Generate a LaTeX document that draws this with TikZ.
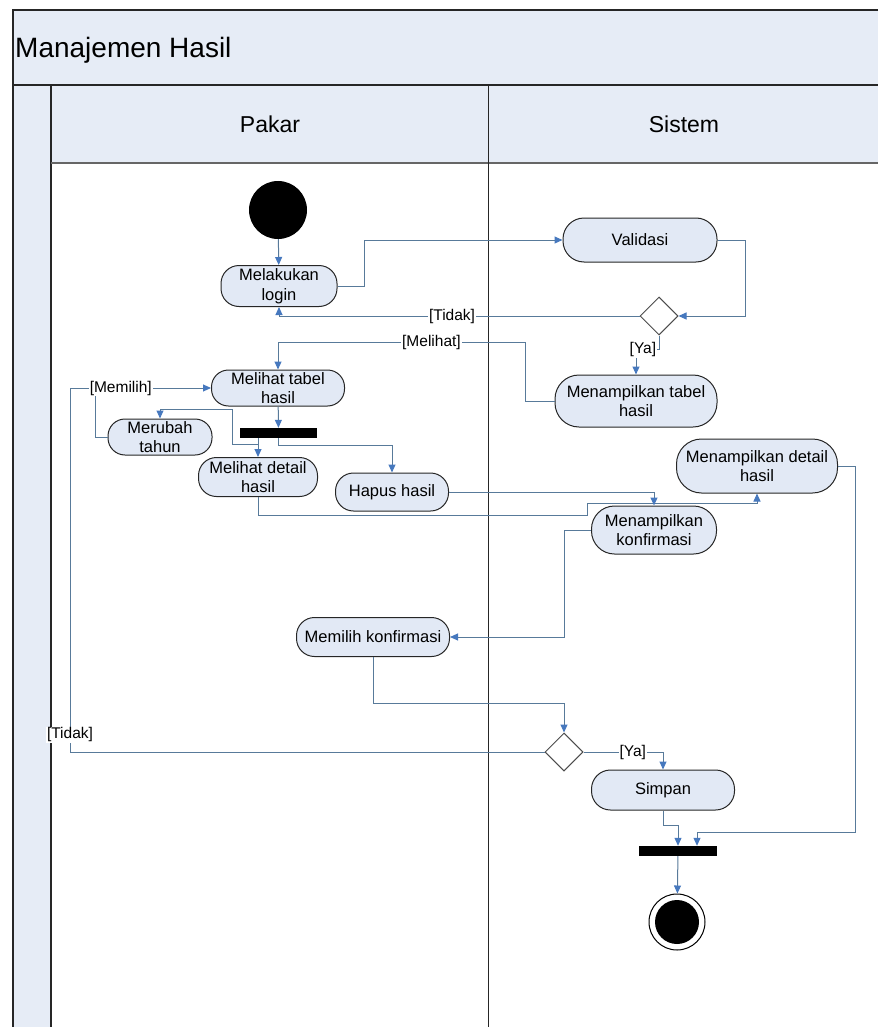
\documentclass[tikz,border=0pt]{standalone}
\usepackage{fontspec}
\setmainfont{Liberation Sans}
\usepackage{tikz}
\usetikzlibrary{arrows.meta,shapes.geometric,calc}
\definecolor{lanefill}{RGB}{230,236,246}
\definecolor{actfill}{RGB}{226,233,245}
\definecolor{flowline}{RGB}{88,122,154}
\definecolor{flowtip}{RGB}{70,120,190}

\begin{document}
\begin{tikzpicture}
[x=1pt,y=-1pt,
lane/.style={draw=black!85,line width=1.2pt},
act/.style={draw=black!85,line width=1pt,fill=actfill,rounded corners=18pt,align=center,inner sep=0pt,font=\fontsize{16.5}{19.5}\selectfont},
dec/.style={diamond,draw=black!70,line width=1pt,fill=white,minimum width=38pt,minimum height=38pt,inner sep=0pt},
bar/.style={fill=black,minimum height=10pt,inner sep=0pt},
guard/.style={fill=white,inner sep=1pt,font=\fontsize{15.5}{18}\selectfont},
flow/.style={draw=flowline,line width=1pt,-{Triangle[length=8pt,width=7pt,color=flowtip]}},
link/.style={draw=flowline,line width=1pt}]
\useasboundingbox (0,0) rectangle (878,1027);
\fill[lanefill] (13,10) rectangle (878,163);
\fill[lanefill] (13,163) rectangle (51,1027);
\draw[lane] (878,10) -- (13,10) -- (13,1027);
\draw[lane,line width=2.5pt] (13,85) -- (878,85);
\draw[lane] (51,85) -- (51,1027);
\draw[lane,draw=black!60,line width=1.6pt] (51,163) -- (878,163);
\draw[lane,line width=1pt] (488,85) -- (488,1027);
\node[anchor=west,inner sep=2pt,font=\fontsize{28}{32}\selectfont] (TT) at (13,50) {Manajemen Hasil};
\node[font=\fontsize{23}{27}\selectfont] (HP) at (270,124) {Pakar};
\node[font=\fontsize{23}{27}\selectfont] (HS) at (684,124) {Sistem};

\node[circle,fill=black,minimum size=58pt,inner sep=0pt] (ST) at (278,210) {};
\node[act,minimum width=116pt,minimum height=41pt] (ML) at (279,286) {Melakukan\\login};
\node[act,minimum width=154pt,minimum height=44pt,rounded corners=21pt] (VA) at (640,240) {Validasi};
\node[dec] (D1) at (659,316) {};
\node[act,minimum width=162pt,minimum height=52pt,rounded corners=24pt] (MT) at (636,401) {Menampilkan tabel\\hasil};
\node[act,minimum width=133pt,minimum height=36pt,rounded corners=17pt] (LT) at (278,388) {Melihat tabel\\hasil};
\node[bar,minimum width=77pt] (F1) at (278.5,433) {};
\node[act,minimum width=104pt,minimum height=36pt,rounded corners=17pt] (RT) at (160,437) {Merubah\\tahun};
\node[act,minimum width=119pt,minimum height=39pt] (LD) at (258,477) {Melihat detail\\hasil};
\node[act,minimum width=113pt,minimum height=38pt] (HH) at (392,492) {Hapus hasil};
\node[act,minimum width=161pt,minimum height=54pt,rounded corners=25pt] (MD) at (757,466) {Menampilkan detail\\hasil};
\node[act,minimum width=125pt,minimum height=48pt,rounded corners=23pt] (MK) at (654,530) {Menampilkan\\konfirmasi};
\node[act,minimum width=153pt,minimum height=39pt] (PK) at (373,637) {Memilih konfirmasi};
\node[dec] (D2) at (564,752) {};
\node[act,minimum width=143pt,minimum height=40pt,rounded corners=19pt] (SI) at (663,790) {Simpan};
\node[bar,minimum width=78pt] (J1) at (678,851) {};
\node[circle,draw=black,line width=1pt,fill=white,minimum size=56pt,inner sep=0pt] (EN) at (677,922) {};
\fill (EN.center) circle (22pt);
\coordinate (MB) at (95,388);

\draw[flow] (ST) -- (ML);
\draw[flow] (ML.east) -- ++(27,0) |- (VA.west);
\draw[flow] (VA.east) -- ++(28,0) |- (D1.east);
\draw[flow] (D1.west) -| node[guard,pos=0.26]{[Tidak]} (ML.south);
\draw[flow] (D1.south) -- ++(0,14) -| node[guard,pos=0.35]{[Ya]} (MT.north);
\draw[flow] (MT.west) -- ++(-29,0) -- ++(0,-59) -| node[guard,pos=0.19]{[Melihat]} (LT.north);
\draw[flow] (LT) -- (F1);
\draw[flow] (F1.south -| LD.north) -- (LD.north);
\draw[flow] (F1.south) -- ++(0,7) -| (HH.north);
\draw[flow] (LD.north) ++(0,-13) -- ++(-26,0) -- ++(0,-35) -| (RT.north);
\draw[link] (MB) |- (RT.west);
\draw[flow] (D2.west) -- (70,752) -- node[guard,pos=0.047]{[Tidak]} (70,388) -- node[guard,pos=0.36]{[Memilih]} (LT.west);
\draw[flow] (LD.south) -- ++(0,18) -- ++(329,0) -- ++(0,-12) -| (MD.south);
\draw[flow] (HH.east) -| (MK.north);
\draw[flow] (MK.west) -- ++(-27,0) |- (PK.east);
\draw[flow] (PK.south) -- ++(0,46) -| (D2.north);
\draw[flow] (D2.east) -| node[guard,pos=0.31]{[Ya]} (SI.north);
\draw[flow] (SI.south) -- ++(0,15) -| (J1.north);
\draw[flow] (MD.east) -- ++(17,0) -- ++(0,366) -| ($(J1.north)+(19,0)$);
\draw[flow] (J1) -- (EN);
%\draw[link] (LT.west) -- (MB);
\end{tikzpicture}
\end{document}
